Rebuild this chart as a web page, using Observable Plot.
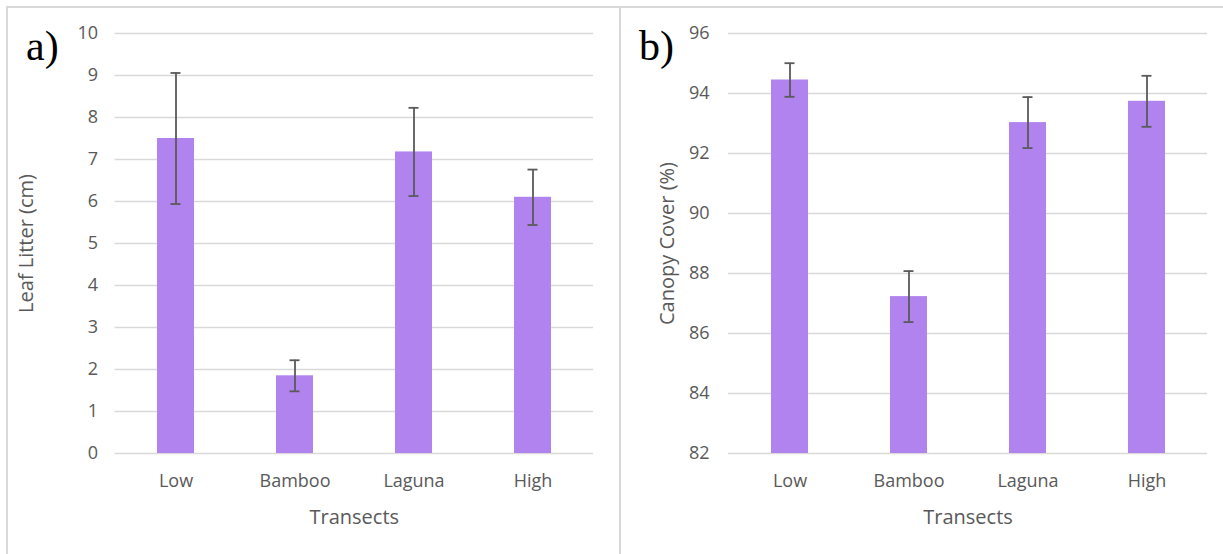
<!DOCTYPE html>
<html>
<head>
<meta charset="utf-8">
<script src="https://cdn.jsdelivr.net/npm/d3@7"></script>
<script src="https://cdn.jsdelivr.net/npm/@observablehq/plot@0.6"></script>
<style>
  html, body { margin: 0; padding: 0; background: #fff; }
  #wrap { position: relative; width: 1223px; height: 554px; overflow: hidden; background: #fff; }
  .panel { position: absolute; top: 0; }
  .line { position: absolute; background: #d9d9d9; }
  .tag { position: absolute; font-family: "Liberation Serif", "Times New Roman", serif; font-size: 42px; color: #000; line-height: 1; }
</style>
</head>
<body>
<div id="wrap">
  <div class="line" style="left:6px; top:6px; width:1217px; height:2px;"></div>
  <div class="line" style="left:6px; top:6px; width:2px; height:548px;"></div>
  <div class="line" style="left:619px; top:6px; width:2px; height:548px;"></div>
  <div id="left" class="panel" style="left:0px;"></div>
  <div id="right" class="panel" style="left:620px;"></div>
  <div class="tag" style="left:26px; top:25px;">a)</div>
  <div class="tag" style="left:639px; top:25px;">b)</div>
</div>
<script>
const categories = ["Low", "Bamboo", "Laguna", "High"];
const litterMean = [7.5, 1.85, 7.18, 6.1];
const litterErr = [1.56, 0.37, 1.05, 0.66];
const canopyMean = [94.45, 87.23, 93.03, 93.74];
const canopyErr = [0.56, 0.85, 0.85, 0.85];
const litterTicks = [0, 1, 2, 3, 4, 5, 6, 7, 8, 9, 10];
const canopyTicks = [82, 84, 86, 88, 90, 92, 94, 96];

const barColor = "#b083ef";
const textColor = "#595959";
const gridColor = "#d9d9d9";
const errColor = "#5a5a5a";
const font = "'Open Sans', Lato, sans-serif";

function panel({means, errs, ticks, yLabel, width, marginLeft, marginRight, labelOffsetY, tickPadY}) {
  const rows = categories.map((c, i) => ({cat: c, v: means[i], lo: means[i] - errs[i], hi: means[i] + errs[i]}));
  const base = d3.min(ticks);
  return Plot.plot({
    width, height: 554,
    marginLeft, marginRight, marginTop: 33, marginBottom: 101,
    style: {fontFamily: font, background: "transparent", overflow: "visible"},
    x: {domain: categories, paddingInner: 0.69, paddingOuter: 0.345},
    y: {domain: [base, d3.max(ticks)]},
    marks: [
      Plot.gridY(ticks, {stroke: gridColor, strokeOpacity: 1, strokeWidth: 1.5}),
      Plot.barY(rows, {x: "cat", y1: () => base, y2: "v", fill: barColor}),
      Plot.ruleX(rows, {x: "cat", y1: "lo", y2: "hi", stroke: errColor, strokeWidth: 1.8}),
      Plot.tickY(rows, {x: "cat", y: "lo", stroke: errColor, strokeWidth: 1.8, insetLeft: 13.5, insetRight: 13.5}),
      Plot.tickY(rows, {x: "cat", y: "hi", stroke: errColor, strokeWidth: 1.8, insetLeft: 13.5, insetRight: 13.5}),
      Plot.axisY({ticks, tickSize: 0, tickPadding: tickPadY, fontSize: 18, fill: textColor,
        label: yLabel, labelAnchor: "center", labelOffset: labelOffsetY, labelArrow: "none"}),
      Plot.axisX({tickSize: 0, tickPadding: 21, fontSize: 18, fill: textColor,
        label: "Transects", labelAnchor: "center", labelOffset: 70, labelArrow: "none"})
    ]
  });
}

const left = panel({means: litterMean, errs: litterErr, ticks: litterTicks, yLabel: "Leaf Litter (cm)",
  width: 618, marginLeft: 114.5, marginRight: 25, labelOffsetY: 96, tickPadY: 17});
const right = panel({means: canopyMean, errs: canopyErr, ticks: canopyTicks, yLabel: "Canopy Cover (%)",
  width: 603, marginLeft: 108, marginRight: 16, labelOffsetY: 69, tickPadY: 19});
document.getElementById("left").appendChild(left);
document.getElementById("right").appendChild(right);
// larger axis titles
for (const svg of [left, right]) {
  svg.querySelectorAll("g[aria-label='x-axis label'], g[aria-label='y-axis label']").forEach(g => g.setAttribute("font-size", 20));
}
</script>
</body>
</html>
